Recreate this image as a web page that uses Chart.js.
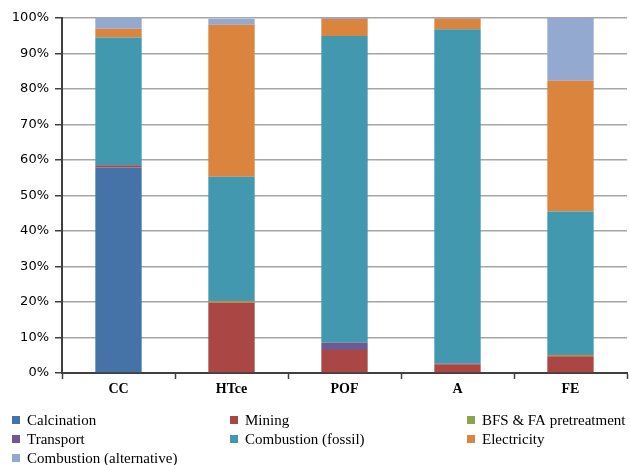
<!DOCTYPE html>
<html>
<head>
<meta charset="utf-8">
<script src="https://cdn.jsdelivr.net/npm/chart.js@4/dist/chart.umd.min.js"></script>
<style>
  body { margin: 0; background: #fff; }
  #chartBox { width: 630px; height: 465px; }
</style>
</head>
<body>
<div id="chartBox"><canvas id="grafica"></canvas></div>
<script>
// categorias y valores (%)
const categorias = ['CC', 'HTce', 'POF', 'A', 'FE'];
const calcinacion = [57.9, 0, 0, 0, 0];
const mineria = [0.6, 19.8, 6.5, 2.5, 4.7];
const pretratamiento = [0, 0.5, 0, 0, 0.4];
const transporte = [0, 0.2, 2.0, 0.2, 0.2];
const combFosil = [36.0, 34.8, 86.4, 94.1, 40.2];
const electricidad = [2.5, 42.8, 4.8, 3.0, 36.8];
const combAlternativa = [3.0, 1.7, 0.3, 0.2, 17.7];
const ticksY = [0, 10, 20, 30, 40, 50, 60, 70, 80, 90, 100];

const series = [
    { nombre: 'Calcination', datos: calcinacion, color: '#4572A7' },
    { nombre: 'Mining', datos: mineria, color: '#AA4643' },
    { nombre: 'BFS & FA pretreatment', datos: pretratamiento, color: '#89A54E' },
    { nombre: 'Transport', datos: transporte, color: '#71588F' },
    { nombre: 'Combustion (fossil)', datos: combFosil, color: '#4198AF' },
    { nombre: 'Electricity', datos: electricidad, color: '#DB843D' },
    { nombre: 'Combustion (alternative)', datos: combAlternativa, color: '#93A9CF' }
];

// leyenda en tres columnas dibujada debajo del grafico
const leyendaPlugin = {
    id: 'leyendaTresColumnas',
    afterDraw(chart) {
        const c = chart.ctx;
        const columnas = [12, 230, 467];
        c.save();
        c.font = '15px "Liberation Serif"';
        c.textBaseline = 'middle';
        chart.data.datasets.forEach((ds, i) => {
            const x = columnas[i % 3];
            const y = 420 + Math.floor(i / 3) * 19;
            c.fillStyle = ds.backgroundColor;
            c.fillRect(x, y - 4, 8, 8);
            c.fillStyle = '#000';
            c.fillText(ds.label, x + 15, y + 1);
        });
        c.restore();
    }
};

const ctx = document.getElementById('grafica').getContext('2d');
new Chart(ctx, {
    type: 'bar',
    data: {
        labels: categorias,
        datasets: series.map(s => ({
            label: s.nombre,
            data: s.datos,
            backgroundColor: s.color,
            borderWidth: 0,
            barPercentage: 0.41,
            categoryPercentage: 1
        }))
    },
    options: {
        responsive: true,
        maintainAspectRatio: false,
        animation: false,
        layout: { padding: { top: 18, right: 3, left: 0, bottom: 65 } },
        plugins: {
            legend: { display: false },
            tooltip: { enabled: false }
        },
        scales: {
            x: {
                stacked: true,
                afterFit: scale => { scale.height = 27; },
                grid: { offset: true, drawOnChartArea: false, tickLength: 6, tickColor: '#404040', tickWidth: 1.5 },
                border: { color: '#404040', width: 2 },
                ticks: { color: '#000', font: { family: 'Liberation Serif', size: 14, weight: 'bold' }, padding: 2 }
            },
            y: {
                stacked: true,
                min: 0,
                max: 100,
                afterFit: scale => { scale.width = 62; },
                afterBuildTicks: scale => { scale.ticks = ticksY.map(v => ({ value: v })); },
                grid: { color: '#A6A6A6', lineWidth: 1.5, tickLength: 7, tickColor: '#404040', tickWidth: 1.5 },
                border: { color: '#404040', width: 2 },
                ticks: {
                    color: '#000',
                    font: { family: 'DejaVu Sans', size: 13 },
                    padding: 6,
                    callback: v => v + '%'
                }
            }
        }
    },
    plugins: [leyendaPlugin]
});
</script>
</body>
</html>
